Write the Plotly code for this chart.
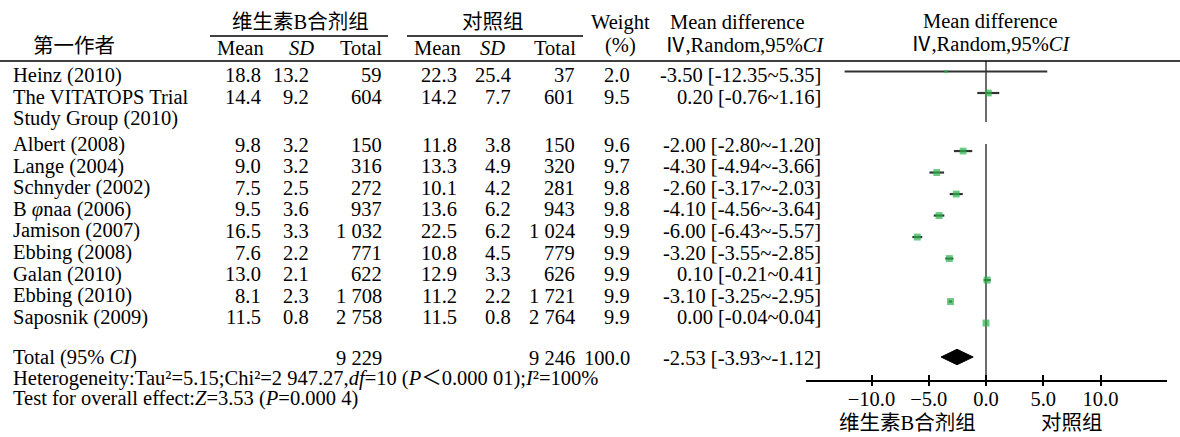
import plotly.graph_objects as go

# ---------------- data ----------------
studies = ["Heinz (2010)", "The VITATOPS Trial\nStudy Group (2010)", "Albert (2008)",
           "Lange (2004)", "Schnyder (2002)", "B <i>φ</i>naa (2006)", "Jamison (2007)",
           "Ebbing (2008)", "Galan (2010)", "Ebbing (2010)", "Saposnik (2009)"]
exp_mean = [18.8, 14.4, 9.8, 9.0, 7.5, 9.5, 16.5, 7.6, 13.0, 8.1, 11.5]
exp_sd = [13.2, 9.2, 3.2, 3.2, 2.5, 3.6, 3.3, 2.2, 2.1, 2.3, 0.8]
exp_n = [59, 604, 150, 316, 272, 937, 1032, 771, 622, 1708, 2758]
ctl_mean = [22.3, 14.2, 11.8, 13.3, 10.1, 13.6, 22.5, 10.8, 12.9, 11.2, 11.5]
ctl_sd = [25.4, 7.7, 3.8, 4.9, 4.2, 6.2, 6.2, 4.5, 3.3, 2.2, 0.8]
ctl_n = [37, 601, 150, 320, 281, 943, 1024, 779, 626, 1721, 2764]
weight = [2.0, 9.5, 9.6, 9.7, 9.8, 9.8, 9.9, 9.9, 9.9, 9.9, 9.9]
md = [-3.50, 0.20, -2.00, -4.30, -2.60, -4.10, -6.00, -3.20, 0.10, -3.10, 0.00]
ci_lo = [-12.35, -0.76, -2.80, -4.94, -3.17, -4.56, -6.43, -3.55, -0.21, -3.25, -0.04]
ci_hi = [5.35, 1.16, -1.20, -3.66, -2.03, -3.64, -5.57, -2.85, 0.41, -2.95, 0.04]
total_exp_n = 9229
total_ctl_n = 9246
total_weight = 100.0
total_md = -2.53
total_lo = -3.93
total_hi = -1.12
tick_vals = [-10, -5, 0, 5, 10]
tick_text = ["−10.0", "−5.0", "0.0", "5.0", "10.0"]
favours = ["维生素B合剂组", "对照组"]
favours_at = [-6.9, 7.5]
group_names = ["维生素B合剂组", "对照组"]
heterogeneity = "Heterogeneity:Tau²=5.15;Chi²=2 947.27,<i>df</i>=10 (<i>P</i>＜0.000 01);<i>I</i>²=100%"
overall = "Test for overall effect:<i>Z</i>=3.53 (<i>P</i>=0.000 4)"

# ---------------- layout constants ----------------
W, H = 1180, 437
FONT = "Liberation Serif, Noto Sans CJK SC, serif"
FS = 20.5
T0, RS = 75.0, 21.6        # table rows: pixel = T0 + RS*idx
P0, PS = 71.5, 21.5        # plot rows
AXIS_PIX = 380.0
XL_PIX, XR_PIX, ZERO_PIX, UNIT = 806.0, 1167.0, 986.0, 11.45


def ty(pix):
    return (pix - T0) / RS


def fmt_n(n):
    return f"{n:,}".replace(",", " ")


def fmt_md(m, lo, hi):
    return f"{m:.2f} [{lo:.2f}~{hi:.2f}]"


# row indices
text_idx = [i if i < 2 else i + 1.22 for i in range(len(studies))]
plot_idx = [i if i < 2 else i + 1.7 for i in range(len(studies))]
total_text_idx = text_idx[-1] + 1.86
total_plot_idx = plot_idx[-1] + 1.58

fig = go.Figure()

# CI lines
xs, ys = [], []
for lo, hi, k in zip(ci_lo, ci_hi, plot_idx):
    xs += [lo, hi, None]
    ys += [k, k, None]
fig.add_trace(go.Scatter(x=xs, y=ys, mode="lines", xaxis="x2", yaxis="y2",
                         line=dict(color="#333333", width=2.2), hoverinfo="skip",
                         showlegend=False))
# squares
fig.add_trace(go.Scatter(x=md, y=plot_idx, mode="markers", xaxis="x2", yaxis="y2",
                         marker=dict(symbol="square", color="#2bb34b",
                                     size=[2.2 * w ** 0.5 for w in weight],
                                     line=dict(width=0)),
                         showlegend=False))
# diamond
dh = 0.36
fig.add_trace(go.Scatter(x=[total_lo, total_md, total_hi, total_md, total_lo],
                         y=[total_plot_idx, total_plot_idx - dh, total_plot_idx,
                            total_plot_idx + dh, total_plot_idx],
                         mode="lines", fill="toself", fillcolor="black",
                         line=dict(color="black", width=1), xaxis="x2", yaxis="y2",
                         showlegend=False))
# dummy trace for the second tick axis
fig.add_trace(go.Scatter(x=[0], y=[0], mode="markers", xaxis="x3", yaxis="y2",
                         marker=dict(opacity=0), showlegend=False, hoverinfo="skip"))

ann = []


def add_text(x, idx, text, anchor="right", size=FS):
    ann.append(dict(x=x, y=idx, xref="x", yref="y", text=text, showarrow=False,
                    xanchor=anchor, yanchor="middle",
                    font=dict(family=FONT, size=size, color="black")))


# table body
col_right = [263, 311, 384, 459, 513, 577, 632, 823]
for i, name in enumerate(studies):
    k = text_idx[i]
    for j, line in enumerate(name.split("\n")):
        add_text(11, k + j, line, anchor="left")
    vals = [f"{exp_mean[i]:.1f}", f"{exp_sd[i]:.1f}", fmt_n(exp_n[i]),
            f"{ctl_mean[i]:.1f}", f"{ctl_sd[i]:.1f}", fmt_n(ctl_n[i]),
            f"{weight[i]:.1f}", fmt_md(md[i], ci_lo[i], ci_hi[i])]
    for x, v in zip(col_right, vals):
        add_text(x, k, v)

# totals
add_text(11, total_text_idx, "Total (95% <i>CI</i>)", anchor="left")
add_text(col_right[2], total_text_idx, fmt_n(total_exp_n))
add_text(col_right[5], total_text_idx, fmt_n(total_ctl_n))
add_text(col_right[6], total_text_idx, f"{total_weight:.1f}")
add_text(col_right[7], total_text_idx, fmt_md(total_md, total_lo, total_hi))
add_text(11, total_text_idx + 0.97, heterogeneity, anchor="left")
add_text(11, total_text_idx + 1.9, overall, anchor="left")

# headers
add_text(74, ty(46), "第一作者", anchor="center")
add_text(300, ty(22), group_names[0], anchor="center")
add_text(493, ty(22), group_names[1], anchor="center")
for x, t in zip([240, 301, 361, 437, 492, 555],
                ["Mean", "<i>SD</i>", "Total", "Mean", "<i>SD</i>", "Total"]):
    add_text(x, ty(48), t, anchor="center")
add_text(620, ty(22), "Weight", anchor="center")
add_text(620, ty(45), "(%)", anchor="center")
add_text(737, ty(22), "Mean difference", anchor="center")
add_text(744, ty(45), "Ⅳ,Random,95%<i>CI</i>", anchor="center")
add_text(990, ty(21), "Mean difference", anchor="center")
add_text(990, ty(44), "Ⅳ,Random,95%<i>CI</i>", anchor="center")

# favours labels
for lab, xv in zip(favours, favours_at):
    ann.append(dict(x=xv, y=1 - 423 / H, xref="x2", yref="paper", text=lab,
                    showarrow=False, xanchor="center", yanchor="middle",
                    font=dict(family=FONT, size=20.5, color="black")))

shapes = []
# header rule
shapes.append(dict(type="line", xref="x", yref="y", x0=0, x1=W, y0=ty(61), y1=ty(61),
                   line=dict(color="black", width=1.5)))
# group underlines
for x0, x1 in [(210, 388), (407, 583)]:
    shapes.append(dict(type="line", xref="x", yref="y", x0=x0, x1=x1, y0=ty(36), y1=ty(36),
                       line=dict(color="black", width=1.5)))
# zero line (two segments)
for y0, y1 in [(61, 122), (144, AXIS_PIX)]:
    shapes.append(dict(type="line", xref="x2", yref="paper", x0=0, x1=0,
                       y0=1 - y0 / H, y1=1 - y1 / H,
                       line=dict(color="#3c3c3c", width=1.5), layer="below"))

xr = [(XL_PIX - ZERO_PIX) / UNIT, (XR_PIX - ZERO_PIX) / UNIT]
xdom = [XL_PIX / W, XR_PIX / W]
y2dom = [1 - AXIS_PIX / H, 1]

fig.update_layout(
    width=W, height=H, margin=dict(l=0, r=0, t=0, b=0),
    paper_bgcolor="white", plot_bgcolor="rgba(0,0,0,0)",
    showlegend=False,
    xaxis=dict(domain=[0, 1], range=[0, W], visible=False, anchor="y", fixedrange=True),
    yaxis=dict(domain=[0, 1], range=[(H - T0) / RS, -T0 / RS], visible=False,
               anchor="x", fixedrange=True),
    xaxis2=dict(domain=xdom, range=xr, anchor="y2", showgrid=False, zeroline=False,
                showline=True, linecolor="black", linewidth=1.5,
                ticks="inside", ticklen=5, tickwidth=1.5, tickcolor="black",
                tickvals=tick_vals, ticktext=tick_text,
                tickfont=dict(family=FONT, size=20.5, color="black")),
    xaxis3=dict(domain=xdom, range=xr, anchor="y2", overlaying="x2", showgrid=False,
                zeroline=False, showline=False, ticks="outside", ticklen=5, tickwidth=1.5,
                tickcolor="black", tickvals=tick_vals, showticklabels=False),
    yaxis2=dict(domain=y2dom, range=[(AXIS_PIX - P0) / PS, -P0 / PS], visible=False,
                anchor="x2"),
    annotations=ann, shapes=shapes,
)

fig.write_html("out.html", config={"displayModeBar": False},
               post_script="document.body.style.margin='0';document.body.style.overflow='hidden';")
